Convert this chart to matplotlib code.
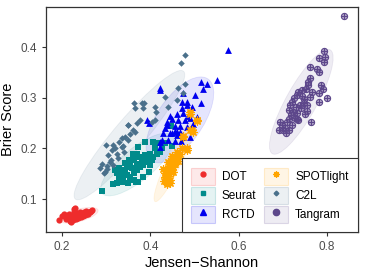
import numpy as np
import matplotlib
matplotlib.use('Agg')
import matplotlib.pyplot as plt
from matplotlib.patches import Ellipse, Patch
from matplotlib.lines import Line2D
from matplotlib.colors import to_rgba

plt.rcParams['font.family'] = ['Liberation Sans', 'DejaVu Sans']

# values
dot_x = [0.194, 0.199, 0.205, 0.210, 0.214, 0.216, 0.219, 0.222, 0.224, 0.226, 0.228, 0.229,
         0.231, 0.233, 0.235, 0.237, 0.239, 0.241, 0.243, 0.245, 0.247, 0.249, 0.251, 0.253,
         0.255, 0.258, 0.260, 0.263, 0.266, 0.268, 0.220, 0.225, 0.232, 0.238, 0.244, 0.250, 0.256]
dot_y = [0.058, 0.066, 0.070, 0.060, 0.064, 0.071, 0.057, 0.062, 0.068, 0.074, 0.080, 0.083,
         0.060, 0.066, 0.072, 0.062, 0.068, 0.075, 0.065, 0.071, 0.067, 0.074, 0.069, 0.072,
         0.076, 0.070, 0.075, 0.074, 0.077, 0.078, 0.055, 0.058, 0.063, 0.064, 0.066, 0.069, 0.071]

seurat_x = [0.290, 0.316, 0.324, 0.335, 0.350, 0.368, 0.339, 0.347, 0.330, 0.354,
            0.362, 0.369, 0.377, 0.384, 0.392, 0.399, 0.403, 0.407, 0.414, 0.422,
            0.426, 0.411, 0.399, 0.388, 0.377, 0.369, 0.373, 0.388, 0.407, 0.418,
            0.448, 0.433, 0.339, 0.347, 0.354, 0.362, 0.335, 0.343, 0.358, 0.380,
            0.392, 0.369, 0.360, 0.352, 0.343, 0.330, 0.324, 0.320, 0.373, 0.384,
            0.396, 0.362, 0.446]
seurat_y = [0.116, 0.130, 0.131, 0.134, 0.132, 0.134, 0.141, 0.147, 0.144, 0.144,
            0.151, 0.157, 0.164, 0.167, 0.174, 0.167, 0.177, 0.183, 0.190, 0.193,
            0.200, 0.200, 0.190, 0.187, 0.183, 0.190, 0.203, 0.213, 0.213, 0.210,
            0.205, 0.210, 0.157, 0.164, 0.170, 0.177, 0.151, 0.154, 0.161, 0.177,
            0.180, 0.170, 0.190, 0.178, 0.172, 0.161, 0.151, 0.157, 0.134, 0.144,
            0.154, 0.137, 0.245]

rctd_x = [0.575, 0.550, 0.514, 0.529, 0.519, 0.422, 0.475, 0.514, 0.471, 0.484,
          0.460, 0.475, 0.463, 0.479, 0.490, 0.448, 0.437, 0.433, 0.456, 0.467,
          0.482, 0.494, 0.445, 0.429, 0.460, 0.475, 0.490, 0.426, 0.441, 0.456,
          0.422, 0.482, 0.494, 0.505, 0.471, 0.497, 0.392, 0.397, 0.422, 0.437,
          0.448, 0.460, 0.422, 0.455, 0.468, 0.486, 0.500, 0.445, 0.470]
rctd_y = [0.395, 0.336, 0.331, 0.327, 0.318, 0.319, 0.310, 0.289, 0.292, 0.292,
          0.269, 0.270, 0.257, 0.256, 0.261, 0.258, 0.252, 0.241, 0.244, 0.245,
          0.243, 0.239, 0.231, 0.230, 0.226, 0.223, 0.223, 0.216, 0.216, 0.215,
          0.203, 0.285, 0.282, 0.262, 0.279, 0.249, 0.256, 0.251, 0.213, 0.246,
          0.230, 0.233, 0.315, 0.235, 0.232, 0.265, 0.305, 0.265, 0.215]

spot_x = [0.490, 0.505, 0.490, 0.496, 0.473, 0.482, 0.471, 0.466, 0.460, 0.452,
          0.456, 0.448, 0.443, 0.452, 0.437, 0.446, 0.433, 0.441, 0.436, 0.445,
          0.437, 0.460, 0.463, 0.448, 0.441, 0.429, 0.452, 0.490, 0.505, 0.494,
          0.475, 0.484, 0.445, 0.440, 0.447, 0.455, 0.458, 0.434, 0.439, 0.450,
          0.462, 0.432]
spot_y = [0.269, 0.254, 0.236, 0.233, 0.224, 0.197, 0.200, 0.190, 0.183, 0.180,
          0.174, 0.170, 0.165, 0.164, 0.157, 0.154, 0.151, 0.145, 0.137, 0.137,
          0.130, 0.193, 0.176, 0.180, 0.174, 0.159, 0.154, 0.272, 0.256, 0.236,
          0.223, 0.200, 0.131, 0.160, 0.162, 0.170, 0.178, 0.143, 0.150, 0.185,
          0.186, 0.135]

c2l_x = [0.479, 0.469, 0.479, 0.463, 0.475, 0.433, 0.460, 0.364, 0.381, 0.386,
         0.366, 0.384, 0.411, 0.413, 0.441, 0.411, 0.403, 0.377, 0.369, 0.350,
         0.361, 0.343, 0.349, 0.335, 0.328, 0.299, 0.316, 0.320, 0.313, 0.305,
         0.324, 0.309, 0.316, 0.301, 0.286, 0.294, 0.335, 0.341, 0.297, 0.350,
         0.365, 0.290, 0.327, 0.338, 0.355, 0.312, 0.302]
c2l_y = [0.384, 0.369, 0.328, 0.320, 0.310, 0.302, 0.295, 0.290, 0.290, 0.289,
         0.279, 0.279, 0.281, 0.272, 0.281, 0.256, 0.252, 0.256, 0.250, 0.246,
         0.236, 0.223, 0.216, 0.220, 0.213, 0.207, 0.207, 0.200, 0.197, 0.187,
         0.190, 0.174, 0.167, 0.166, 0.161, 0.151, 0.203, 0.193, 0.154, 0.246,
         0.233, 0.170, 0.182, 0.205, 0.228, 0.178, 0.160]

tangram_x = [0.794, 0.782, 0.796, 0.794, 0.762, 0.777, 0.782, 0.762, 0.756, 0.758,
             0.752, 0.787, 0.792, 0.781, 0.800, 0.744, 0.735, 0.732, 0.743, 0.726,
             0.720, 0.716, 0.729, 0.739, 0.747, 0.714, 0.724, 0.732, 0.719, 0.713,
             0.728, 0.749, 0.754, 0.764, 0.735, 0.709, 0.694, 0.692, 0.701, 0.707,
             0.698, 0.720, 0.732, 0.741, 0.754, 0.766, 0.762, 0.747, 0.705, 0.713,
             0.839, 0.782]
tangram_y = [0.392, 0.378, 0.380, 0.371, 0.361, 0.356, 0.351, 0.340, 0.331, 0.325,
             0.318, 0.325, 0.318, 0.310, 0.299, 0.315, 0.312, 0.305, 0.303, 0.299,
             0.292, 0.285, 0.282, 0.285, 0.289, 0.276, 0.272, 0.270, 0.266, 0.259,
             0.261, 0.269, 0.274, 0.252, 0.256, 0.252, 0.252, 0.236, 0.237, 0.230,
             0.246, 0.246, 0.259, 0.279, 0.285, 0.312, 0.302, 0.297, 0.240, 0.236,
             0.461, 0.292]

methods = ['DOT', 'Seurat', 'RCTD', 'SPOTlight', 'C2L', 'Tangram']
xs = [dot_x, seurat_x, rctd_x, spot_x, c2l_x, tangram_x]
ys = [dot_y, seurat_y, rctd_y, spot_y, c2l_y, tangram_y]
colors = ['#EE2C2C', '#008B8B', '#0000EE', '#FFA500', '#4A708B', '#5D478B']


def trob(pts, nu=5, iters=50):
    # robust t covariance, like MASS::cov.trob
    n, p = pts.shape
    w = np.ones(n)
    for _ in range(iters):
        c = (w[:, None] * pts).sum(0) / w.sum()
        d = pts - c
        cov = (w[:, None] * d).T @ d / n
        q = np.einsum('ij,jk,ik->i', d, np.linalg.inv(cov), d)
        w = (nu + p) / (nu + q)
    return c, cov


def add_ellipse(ax, x, y, color, level_r=2.6):
    pts = np.column_stack([x, y])
    c, cov = trob(pts)
    vals, vecs = np.linalg.eigh(cov)
    ang = np.degrees(np.arctan2(vecs[1, 1], vecs[0, 1]))
    w, h = 2 * level_r * np.sqrt(vals[1]), 2 * level_r * np.sqrt(vals[0])
    e = Ellipse(c, w, h, angle=ang, facecolor=to_rgba(color, 0.1),
                edgecolor=to_rgba(color, 0.1), lw=0.6, zorder=1)
    ax.add_patch(e)


fig = plt.figure(figsize=(3.66, 2.74), dpi=100)
ax = fig.add_axes([0.126, 0.153, 0.852, 0.821])

for x, y, col in zip(xs, ys, colors):
    add_ellipse(ax, x, y, col)

ax.scatter(dot_x, dot_y, s=20, marker='o', color=colors[0], lw=0, zorder=3)
ax.scatter(seurat_x, seurat_y, s=20, marker='s', color=colors[1], lw=0, zorder=3)
ax.scatter(rctd_x, rctd_y, s=24, marker='^', color=colors[2], lw=0, zorder=3)
ax.scatter(spot_x, spot_y, s=28, marker=(8, 2, 0), color=colors[3], lw=0.9, zorder=3)
ax.scatter(c2l_x, c2l_y, s=11, marker='D', color=colors[4], lw=0, zorder=3)
ax.scatter(tangram_x, tangram_y, s=20, marker='o', facecolors=to_rgba(colors[5], 0.45),
           edgecolors=colors[5], lw=0.8, zorder=3)
ax.scatter(tangram_x, tangram_y, s=20, marker='+', color=colors[5], lw=0.8, zorder=3)

ax.set_xlim(0.164, 0.870)
ax.set_ylim(0.035, 0.479)
ax.set_xticks([0.2, 0.4, 0.6, 0.8])
ax.set_yticks([0.1, 0.2, 0.3, 0.4])
ax.set_xticklabels(['0.2', '0.4', '0.6', '0.8'])
ax.set_yticklabels(['0.1', '0.2', '0.3', '0.4'])
ax.tick_params(colors='#333333', labelcolor='#4D4D4D', labelsize=8.5, length=3, width=0.8)
for sp in ax.spines.values():
    sp.set_color('#333333')
    sp.set_linewidth(0.9)
ax.set_xlabel('Jensen\u2212Shannon', fontsize=10.5, labelpad=2)
ax.set_ylabel('Brier Score', fontsize=10.5, labelpad=4)

# legend keys: tinted box + marker
mk = [dict(marker='o', markersize=3.5), dict(marker='s', markersize=3.2),
      dict(marker='^', markersize=3.8), dict(marker=(8, 2, 0), markersize=4.5, markeredgewidth=0.9),
      dict(marker='D', markersize=2.4), dict(marker='$\\oplus$', markersize=4.5)]
handles = []
for col, m in zip(colors, mk):
    box = Patch(facecolor=to_rgba(col, 0.1), edgecolor=to_rgba(col, 0.18), lw=0.8)
    ln = Line2D([], [], linestyle='none', color=col, **m)
    handles.append((box, ln))

leg = ax.legend(handles, methods, ncol=2, loc='lower right', bbox_to_anchor=(1, 0),
                borderaxespad=0, fontsize=8.5, handlelength=2.0, handleheight=1.8,
                labelspacing=0.2, handletextpad=0.6, columnspacing=0.7,
                borderpad=0.8, fancybox=False, framealpha=1, edgecolor='#333333')
leg.get_frame().set_linewidth(0.8)
leg.set_zorder(5)

fig.savefig('out.png', dpi=100)
